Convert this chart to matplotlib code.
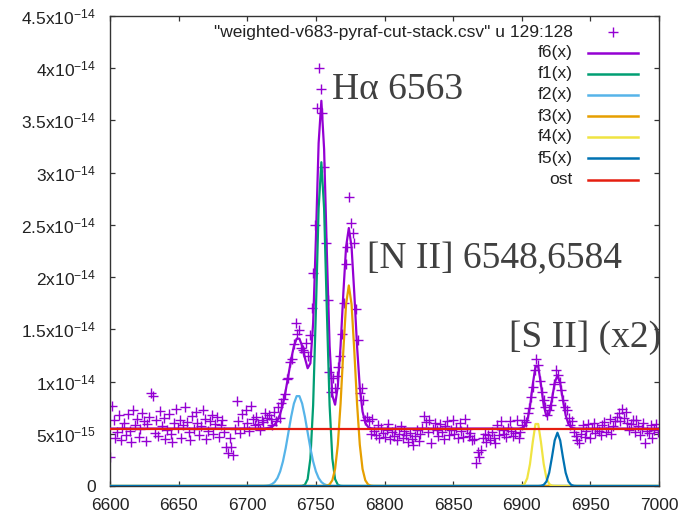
import numpy as np
import matplotlib
matplotlib.use("Agg")
import matplotlib.pyplot as plt

plt.rcParams['font.family'] = ['Liberation Sans', 'DejaVu Sans']
plt.rcParams['mathtext.fontset'] = 'custom'
plt.rcParams['mathtext.rm'] = 'Liberation Sans'
plt.rcParams['mathtext.it'] = 'Liberation Sans'
plt.rcParams['mathtext.default'] = 'regular'

# ---------------- data ----------------
wl_start = 6600.0          # wavelength of first data point (Angstrom)
wl_step = 1.3              # data spacing (Angstrom)
flux = [  # units of 1e-15
    2.8, 7.7, 6.3, 4.6, 5.2, 6.8, 4.4, 5.6, 6.0, 4.9,
    6.9, 5.3, 4.2, 7.3, 5.8, 6.4, 4.7, 5.5, 7.0, 6.2,
    4.3, 5.9, 6.6, 8.9, 8.6, 5.1, 6.3, 4.8, 7.2, 5.7,
    6.5, 4.5, 5.4, 6.9, 5.0, 4.2, 6.0, 7.4, 5.6, 6.3,
    4.6, 5.8, 7.6, 6.1, 5.2, 4.4, 6.7, 5.5, 7.1, 6.0,
    4.9, 5.7, 7.3, 6.4, 4.5, 5.3, 6.2, 6.8, 5.0, 5.9,
    6.6, 4.7, 5.8, 6.3, 5.2, 3.7, 3.2, 4.6, 3.7, 3.0,
    5.5, 8.1, 6.2, 5.1, 6.9, 5.6, 7.3, 6.0, 5.3, 7.7,
    6.4, 5.8, 6.6, 5.9, 5.4, 6.3, 6.1, 7.0, 6.5, 6.8,
    6.4, 5.8, 7.1, 6.2, 7.6, 6.5, 7.9, 8.3, 8.8, 10.2,
    10.3, 11.9, 12.2, 13.6, 15.6, 14.6, 14.9, 13.2, 13.0, 12.8,
    13.7, 12.4, 14.5, 17.0, 20.4, 25.0, 36.2, 40.0, 38.0, 35.7,
    30.5, 23.3, 17.8, 10.9, 9.0, 10.3, 9.4, 10.5, 11.4, 12.4,
    14.6, 17.5, 21.3, 22.9, 27.7, 25.2, 24.2, 23.3, 16.9, 14.0,
    8.9, 9.4, 8.2, 6.3, 6.6, 6.2, 5.0, 6.4, 5.3, 4.9,
    5.8, 4.6, 5.6, 5.1, 4.7, 5.4, 5.9, 4.5, 5.2, 4.8,
    5.5, 4.4, 5.0, 5.7, 4.6, 5.3, 4.9, 4.2, 5.1, 4.5,
    3.9, 4.8, 5.4, 4.3, 5.0, 5.6, 6.7, 6.1, 5.2, 6.3,
    4.1, 5.5, 6.0, 5.4, 4.8, 5.9, 5.2, 4.5, 5.7, 6.2,
    4.9, 5.4, 6.3, 5.0, 5.6, 4.6, 6.0, 5.3, 4.7, 6.4,
    5.5, 4.8, 5.1, 4.4, 4.5, 2.2, 3.3, 2.8, 3.4, 4.6,
    5.0, 4.2, 4.9, 4.4, 5.2, 4.6, 4.1, 5.8, 4.9, 6.2,
    5.4, 5.0, 4.7, 5.6, 6.2, 5.3, 4.8, 5.1, 6.3, 4.6,
    5.2, 5.8, 6.3, 6.1, 7.0, 7.5, 8.5, 9.5, 11.1, 12.2,
    11.6, 10.1, 9.0, 8.2, 7.6, 6.8, 7.3, 7.8, 8.5, 9.8,
    11.1, 10.6, 10.0, 9.2, 8.2, 7.6, 7.3, 6.5, 5.8, 6.2,
    5.2, 4.8, 4.4, 4.1, 5.0, 5.8, 4.7, 5.3, 5.9, 4.6,
    5.5, 6.0, 5.1, 5.6, 5.3, 4.9, 5.8, 6.1, 5.2, 5.6,
    6.4, 5.0, 5.7, 6.2, 6.6, 7.0, 6.2, 7.4, 6.5, 7.1,
    6.0, 5.4, 5.9, 6.3, 5.2, 6.3, 5.7, 4.9, 5.5, 6.0,
    4.1, 5.3, 5.1, 5.8, 4.6, 5.4, 5.9, 5.2,
]

# Gaussian fit components f1..f5 (units 1e-15), constant continuum "ost"
comp_names = ['f1(x)', 'f2(x)', 'f3(x)', 'f4(x)', 'f5(x)']
comp_center = [6754.0, 6737.0, 6774.0, 6911.0, 6926.0]
comp_amp = [31.0, 8.7, 19.2, 6.2, 5.1]
comp_sigma = [3.6, 6.8, 4.5, 3.4, 3.6]
comp_colors = ['#009e73', '#56b4e9', '#e69f00', '#f0e442', '#0072b2']
ost = 5.5
n_samples = 201           # sampling of the fitted functions

data_label = '"weighted-v683-pyraf-cut-stack.csv" u 129:128'
x_ticks = [6600, 6650, 6700, 6750, 6800, 6850, 6900, 6950, 7000]
y_ticks = [0, 5, 10, 15, 20, 25, 30, 35, 40, 45]
y_ticklabels = ['0', r'5x10$^{-15}$', r'1x10$^{-14}$', r'1.5x10$^{-14}$',
                r'2x10$^{-14}$', r'2.5x10$^{-14}$', r'3x10$^{-14}$',
                r'3.5x10$^{-14}$', r'4x10$^{-14}$', r'4.5x10$^{-14}$']

SCALE = 1e-15
wl = wl_start + wl_step * np.arange(len(flux))
fl = np.array(flux) * SCALE

xs = np.linspace(6600, 7000, n_samples)
comps = [a * np.exp(-(xs - c) ** 2 / (2 * s ** 2)) for c, a, s in
         zip(comp_center, comp_amp, comp_sigma)]
f6 = ost + np.sum(comps, axis=0)

# ---------------- figure ----------------
W, H = 683, 518
fig = plt.figure(figsize=(W / 100, H / 100), dpi=100)
L, R, T, B = 110, 659, 16, 486
ax = fig.add_axes([L / W, (H - B) / H, (R - L) / W, (B - T) / H])

purple = '#9400d3'
ax.plot(wl, fl, linestyle='none', marker='+', color=purple, ms=6.5, mew=1.0,
        zorder=2)
ax.plot(xs, f6 * SCALE, color=purple, lw=1.6, zorder=3)
for comp, col in zip(comps, comp_colors):
    ax.plot(xs, comp * SCALE, color=col, lw=1.6, zorder=3)
ax.plot(xs, np.full_like(xs, ost) * SCALE, color='#e51e10', lw=1.6, zorder=4)

ax.set_xlim(6600, 7000)
ax.set_ylim(0, 45 * SCALE)
ax.set_xticks(x_ticks)
ax.set_xticklabels([str(t) for t in x_ticks])
ax.set_yticks([v * SCALE for v in y_ticks])
ax.set_yticklabels(y_ticklabels)

for sp in ax.spines.values():
    sp.set_color('#333333')
    sp.set_linewidth(1.0)
ax.tick_params(direction='in', length=3.5, width=0.9, color='#333333',
               top=True, right=True, labelsize=12.5, labelcolor='#222222')
ax.tick_params(axis='x', pad=9)
ax.tick_params(axis='y', pad=10)

# ---------------- legend (gnuplot style: right-aligned text, sample after) --
def ax_x(px):
    return (px - L) / (R - L)


def ax_y(py):
    return (B - py) / (B - T)


rows_py = [32, 52.7, 73.5, 95, 116, 137, 158, 180]
leg_labels = [data_label, 'f6(x)'] + comp_names + ['ost']
leg_colors = [purple, purple] + comp_colors + ['#e51e10']
tx, l0, l1 = ax_x(573), ax_x(588), ax_x(638)
for k, (lab, col, py) in enumerate(zip(leg_labels, leg_colors, rows_py)):
    yy = ax_y(py)
    ax.text(tx, yy, lab, transform=ax.transAxes, ha='right', va='center',
            fontsize=12.5, color='#222222', zorder=6)
    if k == 0:
        ax.plot([(l0 + l1) / 2], [yy], transform=ax.transAxes, marker='+',
                color=col, ms=6.5, mew=1.0, linestyle='none', zorder=6)
    else:
        ax.plot([l0, l1], [yy, yy], transform=ax.transAxes, color=col,
                lw=1.8, zorder=6)

# ---------------- annotations ----------------
serif = dict(family=['Liberation Serif', 'DejaVu Serif'], color='#404040',
             fontsize=27, ha='left', va='baseline', zorder=7)
ax.text(6761.5, 37.1 * SCALE, 'H\u03b1 6563', **serif)
ax.text(6787.5, 20.9 * SCALE, '[N II] 6548,6584', **serif)
ax.text(6890.5, 13.3 * SCALE, '[S II] (x2)', **serif)

fig.savefig('out.png', dpi=100)
